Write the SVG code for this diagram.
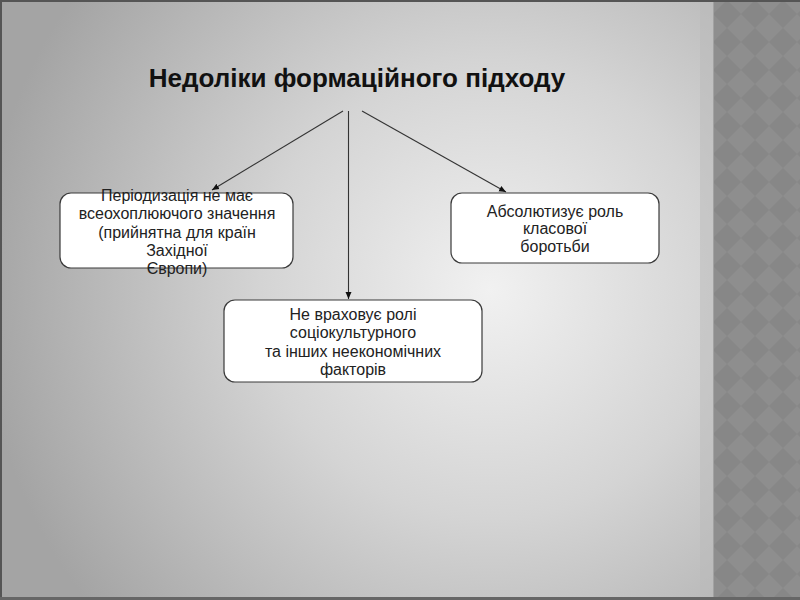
<svg xmlns="http://www.w3.org/2000/svg" width="800" height="600" viewBox="0 0 800 600">
<defs>
<radialGradient id="bg" gradientUnits="userSpaceOnUse" cx="490" cy="290" r="510">
<stop offset="0" stop-color="#f1f1f1"/>
<stop offset="0.45" stop-color="#d4d4d4"/>
<stop offset="1" stop-color="#a4a4a4"/>
</radialGradient>
<pattern id="diam" patternUnits="userSpaceOnUse" x="713" y="0" width="28" height="28">
<rect width="28" height="28" fill="#8e8e8e"/>
<polygon points="14,0 28,14 14,28 0,14" fill="#878787"/>
</pattern>
<marker id="ah" markerWidth="8" markerHeight="8" refX="7" refY="4" orient="auto" markerUnits="userSpaceOnUse">
<path d="M0,1 L7,4 L0,7 Z" fill="#111"/>
</marker>
<style>
.box{fill:#ffffff;stroke:#3a3a3a;stroke-width:1.2}
.t{font-family:"Liberation Sans",Arial,sans-serif;font-size:16px;fill:#222;text-anchor:middle}
.title{font-family:"Liberation Sans",Arial,sans-serif;font-size:26px;font-weight:bold;fill:#111;text-anchor:middle}
.c{stroke:#333;stroke-width:1.1;fill:none;marker-end:url(#ah)}
</style>
</defs>
<rect x="0" y="0" width="800" height="600" fill="url(#bg)"/>
<rect x="700" y="0" width="14" height="600" fill="#b9b9b9" opacity="0.5"/>
<rect x="713" y="0" width="87" height="600" fill="url(#diam)"/>
<line x1="713.5" y1="0" x2="713.5" y2="600" stroke="#a2a2a2" stroke-width="1"/>
<rect x="0" y="0" width="800" height="2" fill="#555"/>
<rect x="0" y="0" width="2" height="600" fill="#555"/>
<rect x="0" y="597" width="800" height="3" fill="#666"/>
<g id="title">
<text class="title" x="357" y="87">Недоліки формаційного підходу</text>
</g>
<g id="connectors">
<line class="c" x1="343" y1="111" x2="212" y2="190"/>
<line class="c" x1="348.5" y1="111" x2="348.5" y2="299"/>
<line class="c" x1="362" y1="111" x2="506" y2="192"/>
</g>
<g id="node-left">
<rect class="box" x="60" y="193" width="233" height="75" rx="11"/>
<text class="t" x="177" y="201">Періодизація не має</text>
<text class="t" x="177" y="219">всеохоплюючого значення</text>
<text class="t" x="177" y="238">(прийнятна для країн</text>
<text class="t" x="177" y="256">Західної</text>
<text class="t" x="177" y="274">Європи)</text>
</g>
<g id="node-right">
<rect class="box" x="451" y="193" width="208" height="70" rx="11"/>
<text class="t" x="555" y="217">Абсолютизує роль</text>
<text class="t" x="555" y="234">класової</text>
<text class="t" x="555" y="252">боротьби</text>
</g>
<g id="node-bottom">
<rect class="box" x="224" y="300" width="258" height="82" rx="11"/>
<text class="t" x="353" y="320">Не враховує ролі</text>
<text class="t" x="353" y="338">соціокультурного</text>
<text class="t" x="353" y="357">та інших неекономічних</text>
<text class="t" x="353" y="375">факторів</text>
</g>
</svg>
